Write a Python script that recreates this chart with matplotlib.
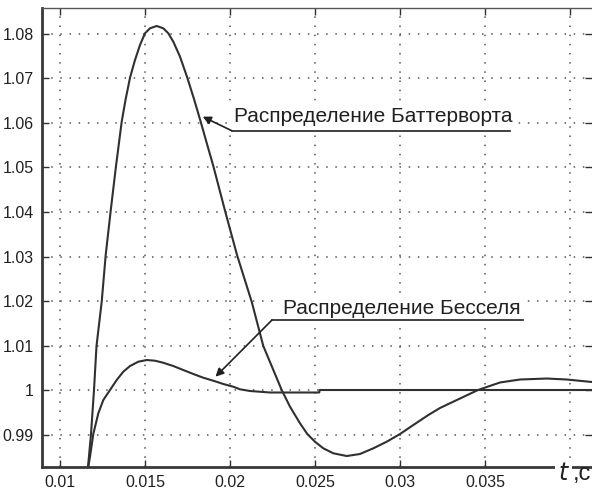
import matplotlib.pyplot as plt
import numpy as np

plt.rcParams['font.family'] = ['Liberation Sans', 'DejaVu Sans']

# Butterworth curve
t_butter = [0.011647, 0.011824, 0.012000, 0.012147, 0.012453, 0.012688, 0.012982,
            0.013294, 0.013629, 0.013853, 0.014118, 0.014412, 0.014706, 0.015000,
            0.015294, 0.015688, 0.016076, 0.016371, 0.016665, 0.017059, 0.017488,
            0.017882, 0.018276, 0.018647, 0.019018, 0.019706, 0.020412, 0.021276,
            0.021959, 0.023041, 0.023529, 0.024118, 0.024547, 0.025000, 0.025488,
            0.026076, 0.026865, 0.027647, 0.028429, 0.029218, 0.030000, 0.030782,
            0.031665, 0.032353, 0.033529, 0.034588, 0.035882, 0.037059, 0.038629,
            0.039806, 0.041294]
y_butter = [0.98270, 0.99011, 1.00000, 1.00989, 1.01984, 1.03034, 1.04029,
            1.05034, 1.06029, 1.06517, 1.07018, 1.07416, 1.07753, 1.08016,
            1.08128, 1.08180, 1.08128, 1.08016, 1.07827, 1.07490, 1.07018,
            1.06539, 1.06029, 1.05528, 1.05034, 1.04029, 1.03034, 1.01984,
            1.00989, 1.00000, 0.99625, 0.99252, 0.99011, 0.98838, 0.98690,
            0.98578, 0.98517, 0.98562, 0.98690, 0.98838, 0.99011, 0.99213,
            0.99438, 0.99596, 0.99809, 1.00000, 1.00169, 1.00236, 1.00258,
            1.00236, 1.00180]

# Bessel curve
t_bessel = [0.011665, 0.011765, 0.011959, 0.012253, 0.012547, 0.012941, 0.013335,
            0.013724, 0.014118, 0.014606, 0.015100, 0.015588, 0.016076, 0.016665,
            0.017253, 0.017841, 0.018429, 0.019018, 0.019606, 0.020194, 0.020588,
            0.021176, 0.022353, 0.025253, 0.025265, 0.041294]
y_bessel = [0.98276, 0.98501, 0.99011, 0.99476, 0.99775, 1.00000, 1.00225,
            1.00412, 1.00539, 1.00636, 1.00674, 1.00658, 1.00613, 1.00539,
            1.00449, 1.00360, 1.00276, 1.00209, 1.00135, 1.00074, 1.00016,
            0.99978, 0.99944, 0.99944, 1.00000, 1.00000]

x_ticks = [0.01, 0.015, 0.02, 0.025, 0.03, 0.035, 0.04]
x_labels = ['0.01', '0.015', '0.02', '0.025', '0.03', '0.035', '']
y_ticks = [0.99, 1.0, 1.01, 1.02, 1.03, 1.04, 1.05, 1.06, 1.07, 1.08]
y_labels = ['0.99', '1', '1.01', '1.02', '1.03', '1.04', '1.05', '1.06', '1.07', '1.08']

fig = plt.figure(figsize=(5.92, 4.9), dpi=100)
ax = fig.add_axes([42/592, 23/490, 550/592, 459/490])

ax.plot(t_butter, y_butter, color='#303030', lw=1.5, zorder=3)
ax.plot(t_bessel, y_bessel, color='#303030', lw=1.5, zorder=3)

ax.set_xlim(0.008941, 0.041294)
ax.set_ylim(0.98270, 1.08584)
ax.set_xticks(x_ticks)
ax.set_xticklabels(x_labels)
ax.set_yticks(y_ticks)
ax.set_yticklabels(y_labels)

ax.grid(True, color='#555555', linestyle=(0, (1, 5)), lw=1.1)
ax.tick_params(direction='in', length=5, width=1, top=True, right=True,
               labelsize=11.5, pad=6, colors='#303030')
ax.tick_params(axis='x', labelcolor='#202020')
ax.tick_params(axis='y', labelcolor='#202020')
for s in ['left', 'bottom']:
    ax.spines[s].set_linewidth(2)
    ax.spines[s].set_color('#383838')
ax.spines['top'].set_linewidth(1)
ax.spines['top'].set_color('#555555')
ax.spines['right'].set_visible(False)

# annotations
arr = dict(arrowstyle='-|>', color='#202020', lw=1.2, mutation_scale=12,
           shrinkA=0, shrinkB=0)
ax.text(0.02023, 1.06029, 'Распределение Баттерворта', fontsize=15, color='#202020',
        va='baseline', ha='left', zorder=4,
        bbox=dict(facecolor='white', edgecolor='none', pad=4))
ax.plot([0.0201, 0.036471], [1.05827, 1.05827], color='#202020', lw=1.2, zorder=5)
ax.annotate('', xy=(0.018394, 1.06142), xytext=(0.0201, 1.05827), arrowprops=arr, zorder=5)

ax.text(0.0231, 1.01708, 'Распределение Бесселя', fontsize=15, color='#202020',
        va='baseline', ha='left', zorder=4,
        bbox=dict(facecolor='white', edgecolor='none', pad=4))
ax.plot([0.022471, 0.037235], [1.01573, 1.01573], color='#202020', lw=1.2, zorder=5)
ax.annotate('', xy=(0.019147, 1.00299), xytext=(0.022471, 1.01573), arrowprops=arr, zorder=5)

ax.text(0.03927, 0.97978, '$t$', fontsize=17, color='#202020', va='baseline',
        ha='left', zorder=6, clip_on=False,
        bbox=dict(facecolor='white', edgecolor='none', pad=2))
ax.text(0.04015, 0.97978, ',c', fontsize=17, color='#202020', va='baseline',
        ha='left', zorder=6, clip_on=False)

fig.savefig('out.png', dpi=100)
